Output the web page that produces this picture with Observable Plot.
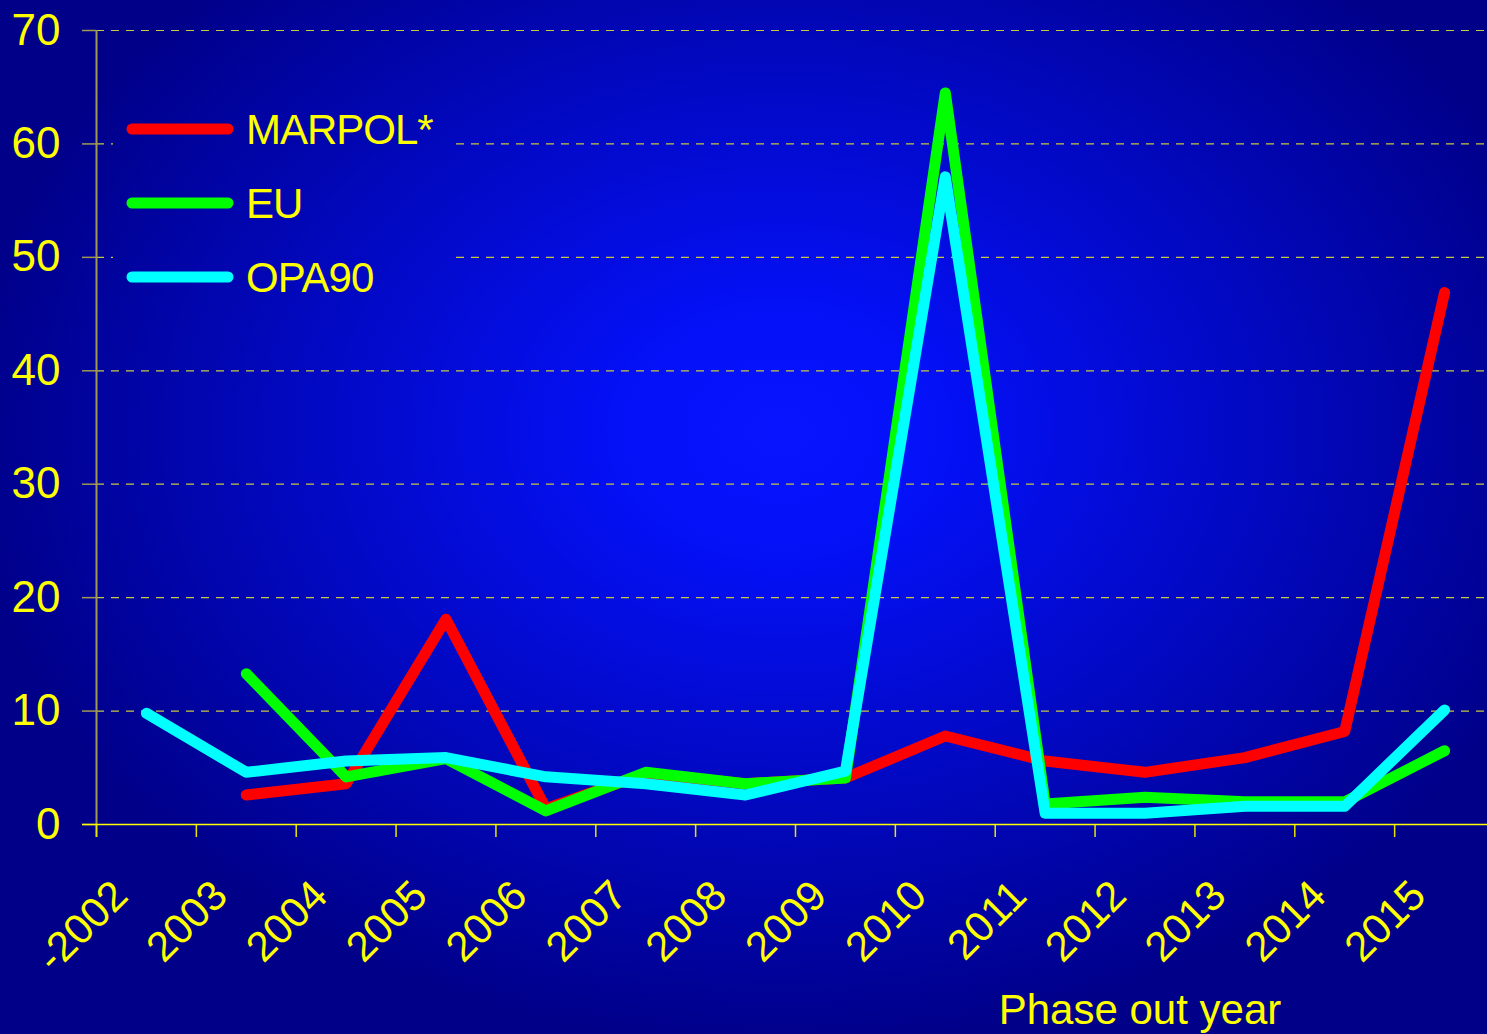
<!DOCTYPE html>
<html>
<head>
<meta charset="utf-8">
<script src="https://cdn.jsdelivr.net/npm/d3@7"></script>
<script src="https://cdn.jsdelivr.net/npm/@observablehq/plot@0.6"></script>
<style>
  html, body { margin: 0; padding: 0; background: #000090; overflow: hidden; }
  #chart svg { display: block; }
</style>
</head>
<body>
<div id="chart"></div>
<script>
// ---- data ----
const years = ["-2002","2003","2004","2005","2006","2007","2008","2009","2010","2011","2012","2013","2014","2015"];
const marpol = [null, 2.6, 3.6, 18.1, 1.4, 4.5, 3.6, 4.1, 7.8, 5.6, 4.6, 5.9, 8.2, 46.9];
const eu     = [null, 13.3, 4.2, 5.8, 1.2, 4.6, 3.6, 4.1, 64.5, 1.8, 2.4, 2.0, 2.0, 6.5];
const opa90  = [9.8, 4.6, 5.6, 5.9, 4.2, 3.6, 2.6, 4.7, 57.1, 1.0, 1.0, 1.6, 1.6, 10.1];
const seriesNames = ["MARPOL*", "EU", "OPA90"];
const seriesColors = ["#ff0000", "#00ff00", "#00ffff"];
const yTicks = [0, 10, 20, 30, 40, 50, 60, 70];
const xTitle = "Phase out year";

// ---- table ----
const seriesValues = [marpol, eu, opa90];
const rows = [];
seriesNames.forEach((s, k) => {
  seriesValues[k].forEach((v, i) => rows.push({series: s, i, year: years[i], value: v}));
});
const edges = years.map((_, i) => i - 0.5);

const YEL = "#ffff00";
const FONT = "'Liberation Sans', Arial, Helvetica, sans-serif";

const chart = Plot.plot({
  width: 1487,
  height: 1034,
  marginLeft: 96,
  marginTop: 30,
  marginBottom: 210,
  marginRight: 0,
  style: {background: "transparent", fontFamily: FONT, overflow: "visible"},
  x: {type: "linear", domain: [-0.5, years.length - 0.5], range: [96, 1494], axis: null},
  y: {domain: [0, 70], range: [824, 30], axis: null},
  color: {domain: seriesNames, range: seriesColors},
  marks: [
    Plot.gridY(yTicks.slice(1), {stroke: "#c8c840", strokeOpacity: 1, strokeWidth: 1.2, strokeDasharray: "8,7"}),
    Plot.axisY(yTicks, {anchor: "left", tickSize: 14, tickPadding: 22, fontSize: 44, stroke: "#a09a50", fill: YEL, strokeWidth: 1.5, label: null, tickFormat: d => String(d)}),
    Plot.ruleX([-0.5], {y1: 70, y2: 0, stroke: "#a09a50", strokeWidth: 2, insetBottom: -13, insetTop: 0}),
    Plot.axisX(edges, {anchor: "bottom", tickSize: 13, tickFormat: () => "", stroke: "#e6e600", strokeWidth: 1.5, label: null}),
    Plot.ruleY([0], {x1: -0.5, x2: years.length - 0.5, insetLeft: -14, stroke: YEL, strokeWidth: 1.5}),
    Plot.text(years, {x: (d, i) => i, y: () => 0, text: d => d, rotate: -45, textAnchor: "end", lineAnchor: "middle", dx: -26, dy: 64, fontSize: 42, fill: YEL}),
    Plot.lineY(rows, {x: "i", y: "value", z: "series", stroke: "series", strokeWidth: 11, strokeLinecap: "round", strokeLinejoin: "round"})
  ]
});

document.getElementById("chart").appendChild(chart);

// ---- background gradient, legend and axis title ----
const svg = d3.select(chart);
const defs = svg.insert("defs", ":first-child");
const grad = defs.append("radialGradient")
  .attr("id", "bggrad")
  .attr("gradientUnits", "userSpaceOnUse")
  .attr("cx", 0).attr("cy", 0).attr("r", 1)
  .attr("gradientTransform", "translate(780,430) scale(820,620)");
grad.append("stop").attr("offset", 0).attr("stop-color", "#0814ff");
grad.append("stop").attr("offset", 0.2).attr("stop-color", "#0410f6");
grad.append("stop").attr("offset", 1).attr("stop-color", "#000088");

svg.insert("rect", "defs + *")
  .attr("x", 0).attr("y", 0).attr("width", 1487).attr("height", 1034)
  .attr("fill", "url(#bggrad)");

const lg = svg.append("g").attr("font-family", FONT).attr("text-anchor", "start");
lg.append("rect").attr("x", 113).attr("y", 92).attr("width", 337).attr("height", 215).attr("fill", "url(#bggrad)");
const legendY = [129, 203, 277];
seriesNames.forEach((s, k) => {
  lg.append("line")
    .attr("x1", 132).attr("x2", 228).attr("y1", legendY[k]).attr("y2", legendY[k])
    .attr("stroke", seriesColors[k]).attr("stroke-width", 11).attr("stroke-linecap", "round");
  lg.append("text")
    .attr("x", 246).attr("y", legendY[k] + 15)
    .attr("text-anchor", "start")
    .attr("fill", YEL).attr("font-size", 42)
    .attr("letter-spacing", -1)
    .text(s);
});

svg.append("text")
  .attr("x", 1140).attr("y", 1024)
  .attr("text-anchor", "middle")
  .attr("font-family", FONT)
  .attr("font-size", 42)
  .attr("fill", YEL)
  .text(xTitle);
</script>
</body>
</html>
